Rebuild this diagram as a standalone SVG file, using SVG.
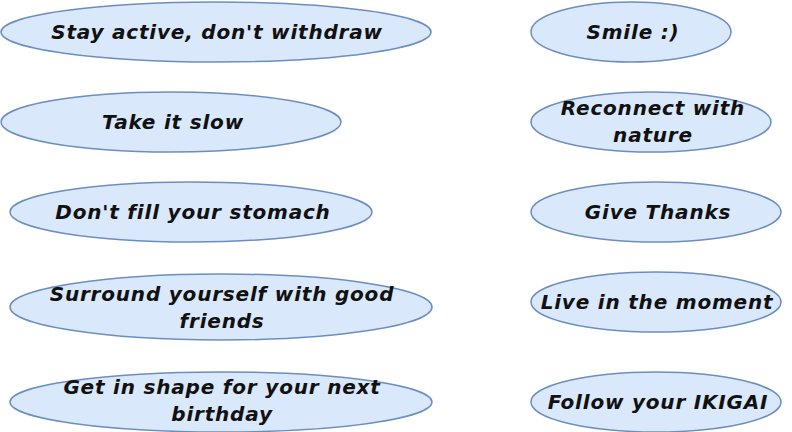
<svg xmlns="http://www.w3.org/2000/svg" width="792" height="432" viewBox="0 0 792 432">
<style>
.n ellipse{fill:#dae8fc;stroke:#6c8ebf;stroke-width:1.5}
.n text{font-family:"DejaVu Sans","Liberation Sans",sans-serif;font-weight:bold;font-style:italic;font-size:20px;letter-spacing:0.8px;fill:#111;text-anchor:middle}
</style>
<rect width="792" height="432" fill="#fff"/>
<g id="n1" class="n"><ellipse cx="216" cy="32" rx="215" ry="30"/><text x="217" y="39">Stay active, don't withdraw</text></g>
<g id="n2" class="n"><ellipse cx="171" cy="122" rx="170" ry="30"/><text x="173" y="129">Take it slow</text></g>
<g id="n3" class="n"><ellipse cx="191" cy="212" rx="181" ry="30"/><text x="193" y="219">Don't fill your stomach</text></g>
<g id="n4" class="n"><ellipse cx="221" cy="307" rx="211" ry="33"/><text x="222" y="301">Surround yourself with good</text><text x="222" y="328">friends</text></g>
<g id="n5" class="n"><ellipse cx="221" cy="402" rx="211" ry="30"/><text x="222" y="394">Get in shape for your next</text><text x="222" y="421">birthday</text></g>
<g id="n6" class="n"><ellipse cx="631" cy="32" rx="100" ry="30"/><text x="633" y="39">Smile :)</text></g>
<g id="n7" class="n"><ellipse cx="651" cy="122" rx="120" ry="30"/><text x="653" y="115">Reconnect with</text><text x="653" y="142">nature</text></g>
<g id="n8" class="n"><ellipse cx="656" cy="212" rx="125" ry="30"/><text x="658" y="219">Give Thanks</text></g>
<g id="n9" class="n"><ellipse cx="656" cy="302" rx="125" ry="30"/><text x="657" y="309">Live in the moment</text></g>
<g id="n10" class="n"><ellipse cx="656" cy="402" rx="125" ry="30"/><text x="658" y="409">Follow your IKIGAI</text></g>
<g id="connectors"/>
</svg>
